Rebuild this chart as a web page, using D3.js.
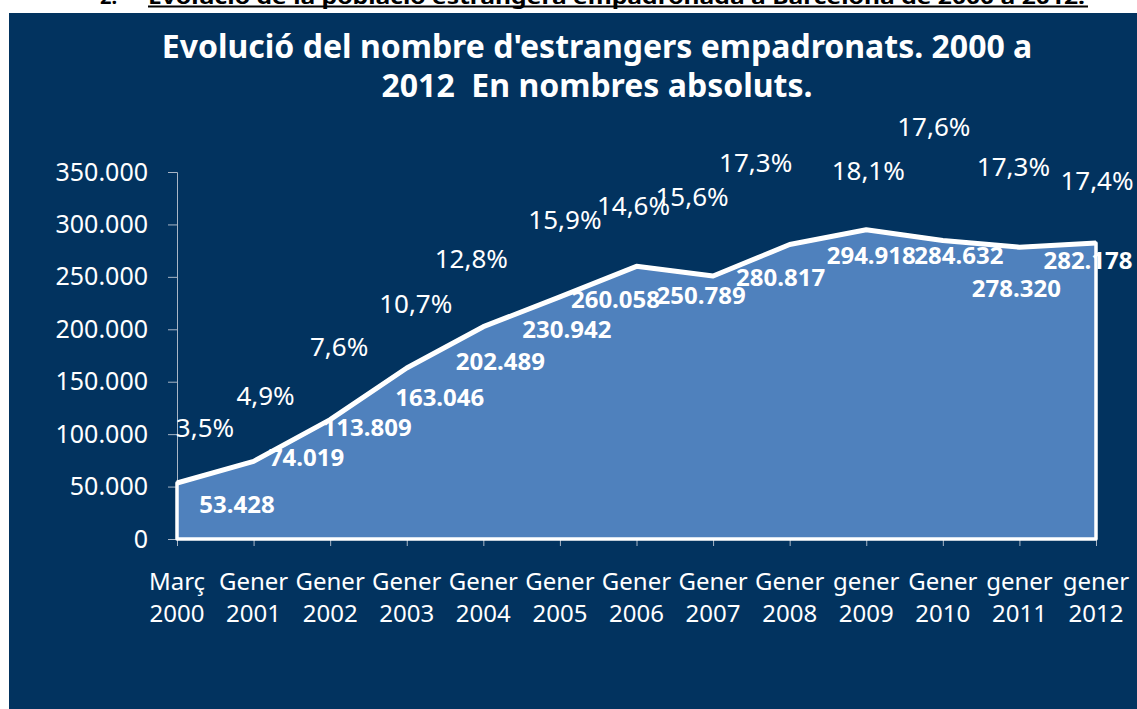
<!DOCTYPE html>
<html>
<head>
<meta charset="utf-8">
<script src="https://cdn.jsdelivr.net/npm/d3@7"></script>
<style>
  body { margin: 0; background: #fff; }
  text { font-family: "Noto Sans", sans-serif; }
</style>
</head>
<body>
<div id="chart"></div>
<script>
// data
const categories = ["Març 2000", "Gener 2001", "Gener 2002", "Gener 2003", "Gener 2004", "Gener 2005",
    "Gener 2006", "Gener 2007", "Gener 2008", "gener 2009", "Gener 2010", "gener 2011", "gener 2012"];
const population = [53428, 74019, 113809, 163046, 202489, 230942, 260058, 250789, 280817, 294918, 284632, 278320, 282178];
const percentages = [3.5, 4.9, 7.6, 10.7, 12.8, 15.9, 14.6, 15.6, 17.3, 18.1, 17.6, 17.3, 17.4];
const yTicks = [0, 50000, 100000, 150000, 200000, 250000, 300000, 350000];

// label nudges (hand placed in the original chart)
const valueNudge = [[60, 21], [53, -4], [37, 8], [33, 29], [17, 35], [7, 33], [-21, 33],
    [-12, 19], [-9, 33], [5, 26], [16, 15], [-3, 41], [-8, 17]];
const pctNudge = [[28, 0], [12, -8], [9, -9], [9, 2], [-12, -6], [5, 10], [-3, -27],
    [-21, -18], [-34, -22], [2, 0], [-9, -53], [-6, -18], [1, -3]];

const width = 1137;
const height = 709;
const plot = { left: 177, right: 1096, top: 172, bottom: 539 };

const caLocale = d3.formatLocale({ decimal: ",", thousands: ".", grouping: [3], currency: ["", " €"] });
const fmtInt = caLocale.format(",d");
const fmtPct = caLocale.format(",.1f");

const svg = d3.select('#chart')
    .append('svg')
    .attr('width', width)
    .attr('height', height);

// heading of the document, cut at the top of the page
svg.append('text')
    .attr('x', 100)
    .attr('y', 3.5)
    .attr('font-family', 'Liberation Sans, Arial, sans-serif')
    .attr('font-weight', 'bold')
    .attr('font-size', 20)
    .attr('fill', '#000')
    .text('2.');
svg.append('text')
    .attr('x', 148)
    .attr('y', 3.5)
    .attr('font-family', 'Liberation Sans, Arial, sans-serif')
    .attr('font-weight', 'bold')
    .attr('font-size', 20)
    .attr('fill', '#000')
    .attr('textLength', 937)
    .attr('lengthAdjust', 'spacingAndGlyphs')
    .text('Evolució de la població estrangera empadronada a Barcelona de 2000 a 2012.');
svg.append('line')
    .attr('x1', 148).attr('x2', 1088)
    .attr('y1', 6.5).attr('y2', 6.5)
    .attr('stroke', '#000')
    .attr('stroke-width', 2);

// dark panel
svg.append('rect')
    .attr('x', 9)
    .attr('y', 13)
    .attr('width', width - 9)
    .attr('height', height - 13)
    .attr('fill', '#02335f');

// title
const title = svg.append('text')
    .attr('text-anchor', 'middle')
    .attr('fill', '#fff')
    .attr('font-weight', 'bold')
    .attr('font-size', 32)
    .style('white-space', 'pre');
title.append('tspan').attr('x', 597).attr('y', 58).text("Evolució del nombre d'estrangers empadronats. 2000 a");
title.append('tspan').attr('x', 597).attr('y', 97).text("2012  En nombres absoluts.");

// scales
const xScale = d3.scalePoint()
    .domain(categories)
    .range([plot.left, plot.right]);

const yScale = d3.scaleLinear()
    .domain([0, 350000])
    .range([plot.bottom, plot.top]);

// hidden secondary scale for the percentage series
const pctScale = d3.scaleLinear()
    .domain([0, 20])
    .range([489.6, 137.6]);

// y axis
const yAxis = d3.axisLeft(yScale)
    .tickValues(yTicks)
    .tickSize(9)
    .tickPadding(20)
    .tickFormat(fmtInt);
const gy = svg.append('g')
    .attr('transform', `translate(${plot.left}, 0)`)
    .call(yAxis);
gy.select('.domain').attr('stroke', '#a9b6c6');
gy.selectAll('.tick line').attr('stroke', '#a9b6c6');
gy.selectAll('.tick text')
    .attr('fill', '#fff')
    .attr('font-size', 25)
    .attr('font-family', '"Noto Sans", sans-serif');

// x axis
const xAxis = d3.axisBottom(xScale)
    .tickSize(7)
    .tickSizeOuter(0)
    .tickFormat('');
const gx = svg.append('g')
    .attr('transform', `translate(0, ${plot.bottom})`)
    .call(xAxis);
gx.select('.domain').attr('stroke', '#a9b6c6');
gx.selectAll('.tick line').attr('stroke', '#a9b6c6');

const catLabels = svg.append('g')
    .selectAll('text')
    .data(categories)
    .enter()
    .append('text')
    .attr('text-anchor', 'middle')
    .attr('fill', '#fff')
    .attr('font-size', 24);
catLabels.append('tspan')
    .attr('x', d => xScale(d))
    .attr('y', 590)
    .text(d => d.split(' ')[0]);
catLabels.append('tspan')
    .attr('x', d => xScale(d))
    .attr('y', 622)
    .text(d => d.split(' ')[1]);

// area
const area = d3.area()
    .x((d, i) => xScale(categories[i]))
    .y0(yScale(0))
    .y1(d => yScale(d));

svg.append('path')
    .datum(population)
    .attr('d', area)
    .attr('fill', '#4f81bd')
    .attr('stroke', '#fff')
    .attr('stroke-width', 3.5)
    .attr('stroke-linejoin', 'round');

const line = d3.line()
    .x((d, i) => xScale(categories[i]))
    .y(d => yScale(d));

svg.append('path')
    .datum(population)
    .attr('d', line)
    .attr('fill', 'none')
    .attr('stroke', '#fff')
    .attr('stroke-width', 5)
    .attr('stroke-linejoin', 'round');

// value labels
svg.append('g')
    .selectAll('text')
    .data(population)
    .enter()
    .append('text')
    .attr('x', (d, i) => xScale(categories[i]) + valueNudge[i][0])
    .attr('y', (d, i) => yScale(d) + valueNudge[i][1])
    .attr('dy', '0.36em')
    .attr('text-anchor', 'middle')
    .attr('fill', '#fff')
    .attr('font-weight', 'bold')
    .attr('font-size', 24)
    .text(d => fmtInt(d));

// percentage labels
svg.append('g')
    .selectAll('text')
    .data(percentages)
    .enter()
    .append('text')
    .attr('x', (d, i) => xScale(categories[i]) + pctNudge[i][0])
    .attr('y', (d, i) => pctScale(d) + pctNudge[i][1])
    .attr('dy', '0.36em')
    .attr('text-anchor', 'middle')
    .attr('fill', '#fff')
    .attr('font-size', 26)
    .text(d => fmtPct(d) + '%');
</script>
</body>
</html>
